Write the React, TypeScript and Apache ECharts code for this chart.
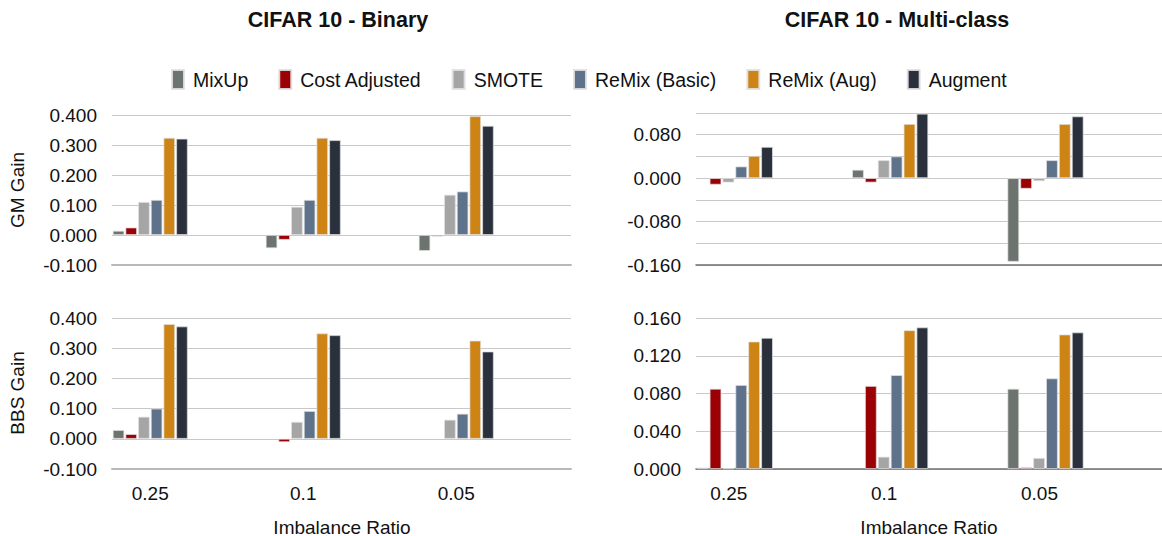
import React, { useEffect, useRef } from "react";
import * as echarts from "echarts";

const ratios = ["0.25", "0.1", "0.05"];
const methods = ["MixUp", "Cost Adjusted", "SMOTE", "ReMix (Basic)", "ReMix (Aug)", "Augment"];
const colors = ["#6d7470", "#9b0005", "#a5a5a5", "#5e728b", "#cd8414", "#2b313c"];

// GM gain, CIFAR 10 binary
const gmBinMixUp = [0.014, -0.044, -0.053];
const gmBinCost = [0.025, -0.016, -0.005];
const gmBinSmote = [0.11, 0.094, 0.134];
const gmBinBasic = [0.117, 0.117, 0.145];
const gmBinAug = [0.324, 0.324, 0.396];
const gmBinAugment = [0.321, 0.316, 0.364];

// GM gain, CIFAR 10 multi-class
const gmMulMixUp = [null, 0.0154, -0.154];
const gmMulCost = [-0.012, -0.008, -0.0195];
const gmMulSmote = [-0.008, 0.033, -0.0055];
const gmMulBasic = [0.0215, 0.04, 0.033];
const gmMulAug = [0.041, 0.0998, 0.0998];
const gmMulAugment = [0.0576, 0.1187, 0.1138];

// BBS gain, CIFAR 10 binary
const bbsBinMixUp = [0.029, null, null];
const bbsBinCost = [0.0155, -0.011, null];
const bbsBinSmote = [0.073, 0.056, 0.063];
const bbsBinBasic = [0.1, 0.092, 0.083];
const bbsBinAug = [0.38, 0.349, 0.325];
const bbsBinAugment = [0.372, 0.343, 0.289];

// BBS gain, CIFAR 10 multi-class
const bbsMulMixUp = [0.0014, null, 0.085];
const bbsMulCost = [0.085, 0.088, 0.0018];
const bbsMulSmote = [0.0007, 0.013, 0.0117];
const bbsMulBasic = [0.089, 0.0995, 0.096];
const bbsMulAug = [0.135, 0.147, 0.1425];
const bbsMulAugment = [0.139, 0.15, 0.1447];

const panels = [
  [gmBinMixUp, gmBinCost, gmBinSmote, gmBinBasic, gmBinAug, gmBinAugment],
  [gmMulMixUp, gmMulCost, gmMulSmote, gmMulBasic, gmMulAug, gmMulAugment],
  [bbsBinMixUp, bbsBinCost, bbsBinSmote, bbsBinBasic, bbsBinAug, bbsBinAugment],
  [bbsMulMixUp, bbsMulCost, bbsMulSmote, bbsMulBasic, bbsMulAug, bbsMulAugment],
];

const FONT = "'Liberation Sans', Arial, Helvetica, sans-serif";
const TXT = "#111111";
const FS = 19;

// each ratio gets a band for its bars plus an empty band after it
const padCats = ratios.flatMap((r) => [r, ""]);
const pad = (arr: (number | null)[]) => arr.flatMap((v) => [v === null ? "-" : v, "-"]);

export default function App() {
  const ref = useRef<HTMLDivElement>(null);
  useEffect(() => {
    if (!ref.current) return;
    const chart = echarts.init(ref.current, null, { renderer: "svg" });

    const grids = [
      { left: 112, top: 115, width: 459, height: 150 },
      { left: 696, top: 113, width: 474, height: 152 },
      { left: 112, top: 318, width: 459, height: 151 },
      { left: 696, top: 318, width: 474, height: 151 },
    ];

    const xAxes = grids.map((_, i) => ({
      type: "category",
      gridIndex: i,
      data: padCats,
      axisTick: { show: false },
      axisLine: {
        show: true,
        onZero: false,
        lineStyle: i % 2 === 0 ? { color: "#b8b8b8", width: 2 } : { color: "#6f6f6f", width: 1.5 },
      },
      axisLabel: {
        show: i >= 2,
        interval: 0,
        margin: 15,
        fontSize: FS,
        fontFamily: FONT,
        color: TXT,
        ...(i === 3
          ? { formatter: (v: string) => (v ? "{a|" + v + "}" : ""), rich: { a: { fontSize: FS, fontFamily: FONT, color: TXT, padding: [0, 12, 0, 0] } } }
          : {}),
      },
      splitLine: { show: false },
    }));

    const yCfg = [
      { min: -0.1, max: 0.4, interval: 0.1 },
      { min: -0.16, max: 0.12, interval: 0.04 },
      { min: -0.1, max: 0.4, interval: 0.1 },
      { min: 0, max: 0.16, interval: 0.04 },
    ];
    const yAxes = yCfg.map((c, i) => ({
      type: "value",
      gridIndex: i,
      ...c,
      axisLine: { show: false },
      axisTick: { show: false },
      splitLine: { lineStyle: { color: "#c8c8c8", width: 1 } },
      axisLabel: {
        margin: 15,
        fontSize: FS,
        fontFamily: FONT,
        color: TXT,
        formatter: (v: number) => {
          if (i === 1 && Math.abs(Math.round(v * 1000)) % 80 !== 0) return "";
          return v.toFixed(3);
        },
      },
    }));

    const series: any[] = [];
    panels.forEach((panel, p) => {
      panel.forEach((vals, m) => {
        series.push({
          type: "bar",
          name: methods[m],
          xAxisIndex: p,
          yAxisIndex: p,
          data: pad(vals),
          barCategoryGap: "2%",
          barGap: "10%",
          itemStyle: { color: colors[m], borderColor: "rgba(225,225,225,0.9)", borderWidth: 0.8 },
        });
      });
    });

    const textStyle = (size: number, weight: string = "normal") => ({
      fontSize: size,
      fontFamily: FONT,
      fontWeight: weight,
      fill: TXT,
      textAlign: "center",
      textVerticalAlign: "middle",
    });

    chart.setOption({
      animation: false,
      backgroundColor: "#ffffff",
      grid: grids,
      xAxis: xAxes,
      yAxis: yAxes,
      series,
      legend: {
        data: methods,
        top: 64,
        left: 166,
        icon: "rect",
        itemWidth: 12,
        itemHeight: 19,
        itemGap: 30,
        textStyle: { fontSize: 19.5, fontFamily: FONT, color: TXT, padding: [0, 0, 0, 4] },
      },
      graphic: [
        { type: "text", x: 338, y: 20, style: { text: "CIFAR 10 - Binary", ...textStyle(21.5, "bold") } },
        { type: "text", x: 897, y: 20, style: { text: "CIFAR 10 - Multi-class", ...textStyle(21.5, "bold") } },
        { type: "text", x: 17, y: 190, rotation: Math.PI / 2, style: { text: "GM Gain", ...textStyle(FS) } },
        { type: "text", x: 17, y: 393, rotation: Math.PI / 2, style: { text: "BBS Gain", ...textStyle(FS) } },
        { type: "text", x: 342, y: 527, style: { text: "Imbalance Ratio", ...textStyle(FS) } },
        { type: "text", x: 929, y: 527, style: { text: "Imbalance Ratio", ...textStyle(FS) } },
      ],
    });
    return () => chart.dispose();
  }, []);
  return <div ref={ref} style={{ position: "absolute", left: 0, top: 0, width: 1162, height: 536 }} />;
}
